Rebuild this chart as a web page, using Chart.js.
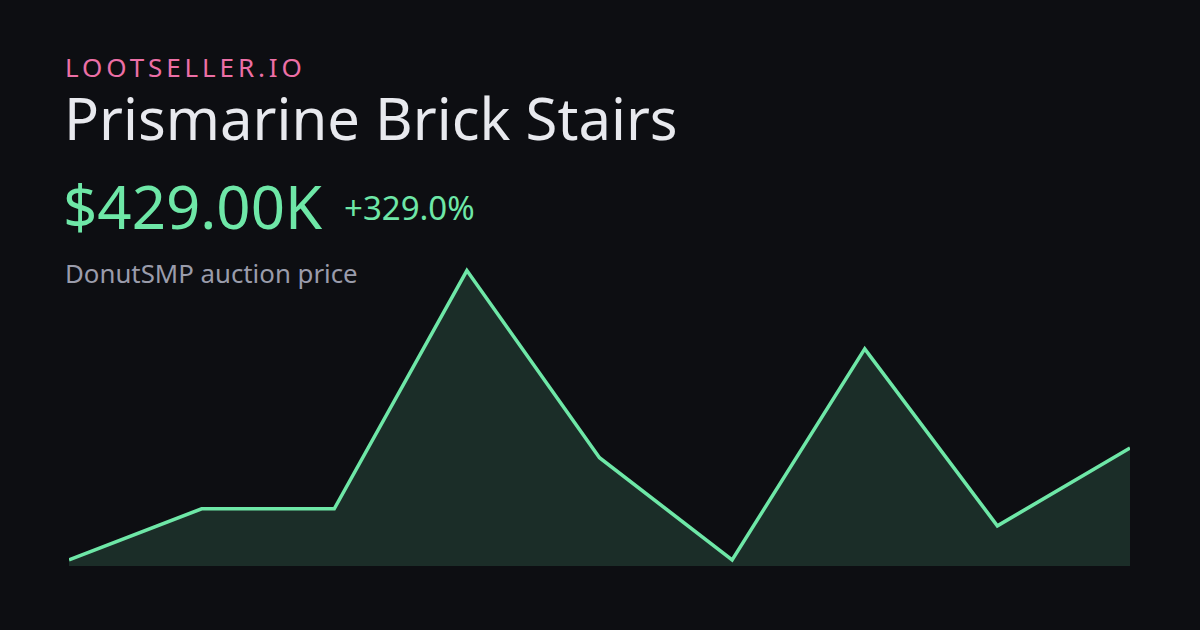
<!DOCTYPE html>
<html>
<head>
<meta charset="utf-8">
<script src="https://cdn.jsdelivr.net/npm/chart.js@4"></script>
<style>
    html, body { margin: 0; padding: 0; }
    body {
        width: 1200px; height: 630px; overflow: hidden;
        background: #0d0e12;
        font-family: "Noto Sans", "Open Sans", sans-serif;
        position: relative;
    }
    .txt { position: absolute; white-space: nowrap; line-height: 1; }
    #brand { left: 65px; top: 54px; font-size: 26px; letter-spacing: 3.9px; color: #ec6fa6; }
    #title { left: 64px; top: 89px; font-size: 58px; color: #e8e9ee; }
    #price { left: 63px; top: 176px; font-size: 60px; color: #6ee7a7; }
    #change { left: 344px; top: 191px; font-size: 33px; color: #6ee7a7; }
    #sub { left: 65px; top: 261px; font-size: 25.8px; color: #9a9cab; }
    #wrap { position: absolute; left: 69px; top: 260px; width: 1061px; height: 306px; }
</style>
</head>
<body>
<div class="txt" id="brand">LOOTSELLER.IO</div>
<div class="txt" id="title">Prismarine Brick Stairs</div>
<div class="txt" id="price">$429.00K</div>
<div class="txt" id="change">+329.0%</div>
<div class="txt" id="sub">DonutSMP auction price</div>
<div id="wrap"><canvas id="priceChart"></canvas></div>
<script>
// price history, in thousands
const labels = ['1', '2', '3', '4', '5', '6', '7', '8', '9'];
const prices = [100, 250, 250, 950, 400, 100, 720, 200, 429];

const ctx = document.getElementById('priceChart').getContext('2d');
new Chart(ctx, {
    type: 'line',
    data: {
        labels: labels,
        datasets: [{
            data: prices,
            borderColor: '#6ee7a7',
            backgroundColor: 'rgba(110, 231, 167, 0.15)',
            borderWidth: 3.5,
            pointRadius: 0,
            tension: 0,
            fill: 'start',
            clip: false
        }]
    },
    options: {
        responsive: true,
        maintainAspectRatio: false,
        animation: false,
        layout: { padding: 0 },
        plugins: { legend: { display: false }, tooltip: { enabled: false } },
        scales: {
            x: { display: false, offset: false },
            y: { display: false, min: 82, max: 981 }
        }
    }
});
</script>
</body>
</html>
